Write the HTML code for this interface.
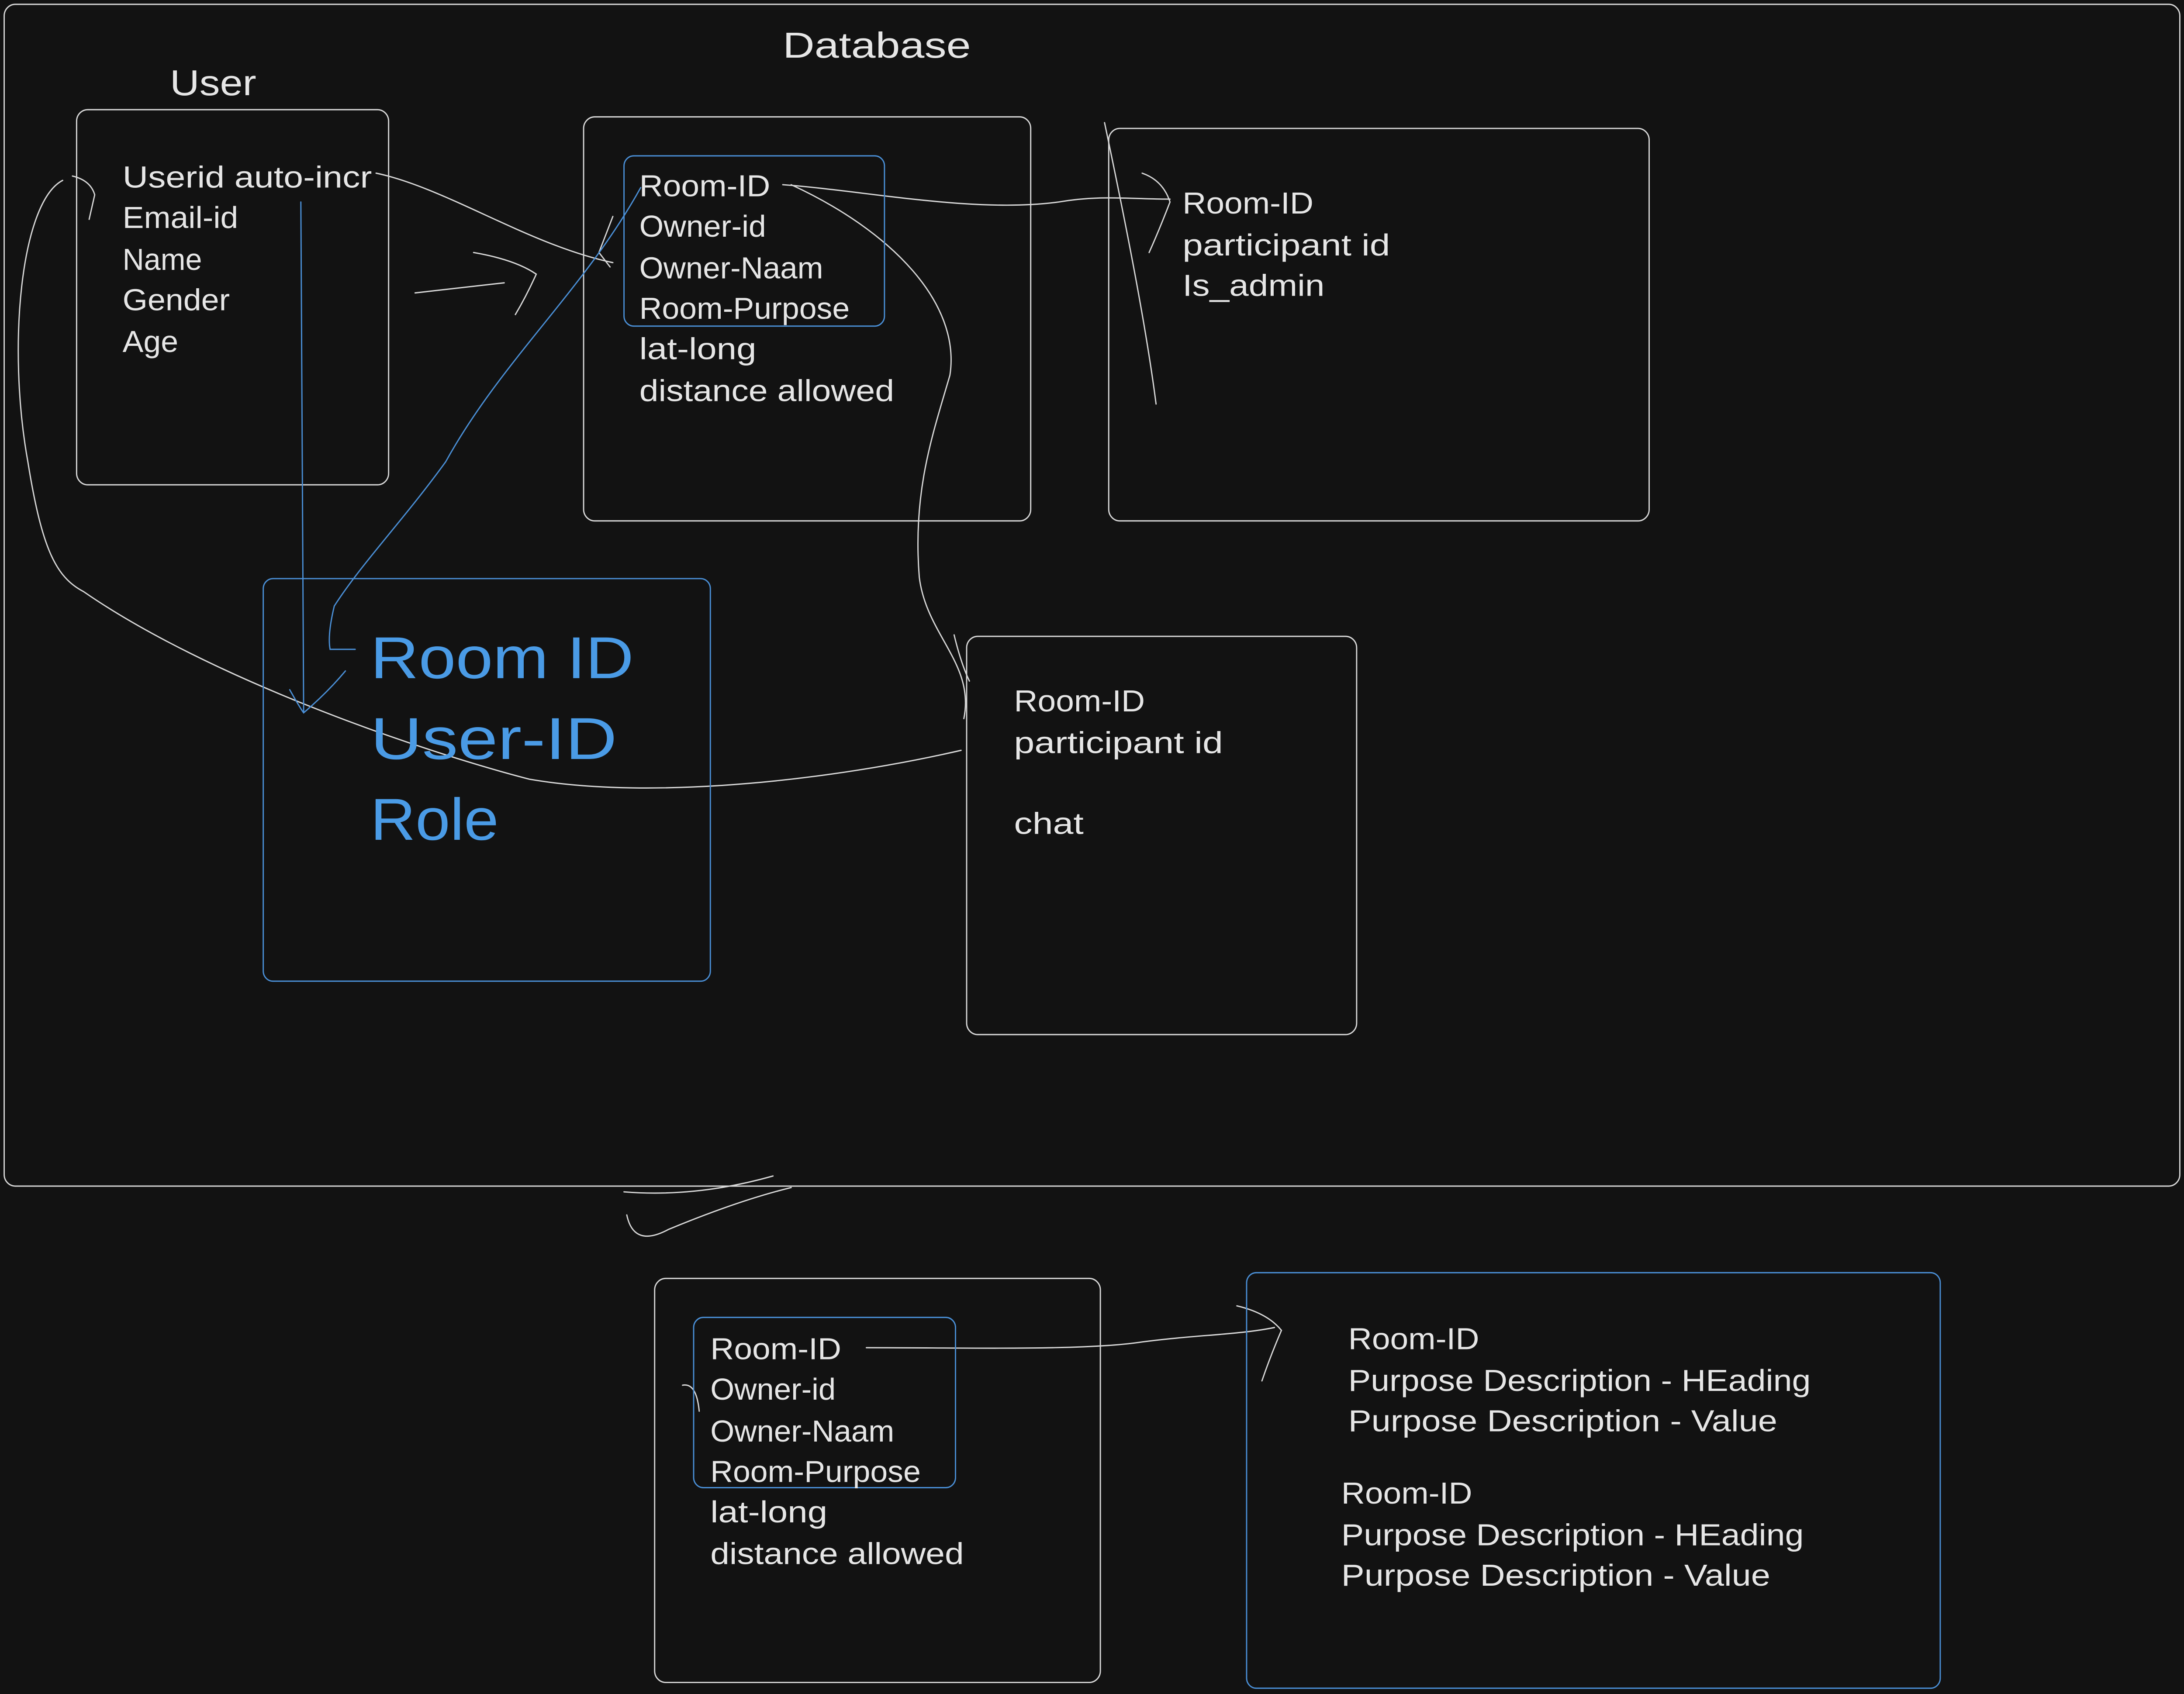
<!DOCTYPE html>
<html><head><meta charset="utf-8"><style>
html,body{margin:0;padding:0;background:#121212;width:100%;height:100%;overflow:hidden}
svg{display:block;position:fixed;left:0;top:0;width:100vw;height:100vh}
text{font-family:"Liberation Sans",sans-serif;fill:#e6e6e6}
.b{fill:#4a9be6}
</style></head><body>
<svg viewBox="0 0 1568 1174" preserveAspectRatio="none" xmlns="http://www.w3.org/2000/svg">
<rect width="1568" height="1174" fill="#121212"/>
<g fill="none" stroke="#d8d8d8" stroke-width="0.9" stroke-linecap="round">
<rect x="3" y="3" width="1562" height="819" rx="8"/>
<rect x="55" y="76" width="224" height="260" rx="8"/>
<rect x="419" y="81" width="321" height="280" rx="8"/>
<rect x="796" y="89" width="388" height="272" rx="8"/>
<rect x="694" y="441" width="280" height="276" rx="8"/>
<rect x="470" y="886" width="320" height="280" rx="8"/>
<path d="M270 120 C320 130 380 170 440 182"/>
<path d="M440 150 L430 175 L438 185"/>
<path d="M298 203 L362 196"/>
<path d="M340 175 Q370 180 385 190 Q378 205 370 218"/>
<path d="M562 128 C620 132 700 148 760 140 C790 135 810 138 840 138"/>
<path d="M820 120 Q835 125 840 140 Q832 160 825 175"/>
<path d="M793 85 C805 140 822 220 830 280"/>
<path d="M568 128 C640 160 690 210 682 260 C670 300 655 340 660 400 C665 440 700 460 692 498"/>
<path d="M685 440 Q690 460 696 472"/>
<path d="M45 125 C15 140 5 240 20 320 C30 380 40 400 60 410 C150 470 300 520 380 540 C470 555 600 540 690 520"/>
<path d="M52 122 Q65 125 68 135 L64 152"/>
<path d="M448 826 Q500 830 555 815"/>
<path d="M450 842 Q455 865 480 852 Q530 832 568 823"/>
<path d="M622 934 C700 934 780 936 820 930 C860 925 890 925 915 920"/>
<path d="M888 905 Q910 910 920 922 Q912 940 906 957"/>
<path d="M490 960 Q500 958 502 978"/>
</g>
<g fill="none" stroke="#4a8fd6" stroke-width="0.9" stroke-linecap="round">
<rect x="448" y="108" width="187" height="118" rx="7"/>
<rect x="189" y="401" width="321" height="279" rx="7"/>
<rect x="498" y="913" width="188" height="118" rx="7"/>
<rect x="895" y="882" width="498" height="288" rx="7"/>
<path d="M216 140 C216 260 218 380 218 493"/>
<path d="M208 478 Q215 490 218 494 Q235 480 248 465"/>
<path d="M460 130 C420 200 360 250 320 320 C290 360 260 390 240 420"/>
<path d="M240 420 Q235 440 237 450 L255 450"/>
</g>
<g font-size="25" lengthAdjust="spacingAndGlyphs"><text x="562" y="40" textLength="135" lengthAdjust="spacingAndGlyphs">Database</text><text x="122" y="66" textLength="62" lengthAdjust="spacingAndGlyphs">User</text></g>
<g font-size="21">
<text x="88" y="130" textLength="179" lengthAdjust="spacingAndGlyphs">Userid auto-incr</text><text x="88" y="158" textLength="83" lengthAdjust="spacingAndGlyphs">Email-id</text><text x="88" y="187" textLength="57" lengthAdjust="spacingAndGlyphs">Name</text><text x="88" y="215" textLength="77" lengthAdjust="spacingAndGlyphs">Gender</text><text x="88" y="244" textLength="40" lengthAdjust="spacingAndGlyphs">Age</text>
<text x="459" y="136" textLength="94" lengthAdjust="spacingAndGlyphs">Room-ID</text><text x="459" y="164" textLength="91" lengthAdjust="spacingAndGlyphs">Owner-id</text><text x="459" y="193" textLength="132" lengthAdjust="spacingAndGlyphs">Owner-Naam</text><text x="459" y="221" textLength="151" lengthAdjust="spacingAndGlyphs">Room-Purpose</text><text x="459" y="249" textLength="84" lengthAdjust="spacingAndGlyphs">lat-long</text><text x="459" y="278" textLength="183" lengthAdjust="spacingAndGlyphs">distance allowed</text>
<text x="849" y="148" textLength="94" lengthAdjust="spacingAndGlyphs">Room-ID</text><text x="849" y="177" textLength="149" lengthAdjust="spacingAndGlyphs">participant id</text><text x="849" y="205" textLength="102" lengthAdjust="spacingAndGlyphs">Is_admin</text>
<text x="728" y="493" textLength="94" lengthAdjust="spacingAndGlyphs">Room-ID</text><text x="728" y="522" textLength="150" lengthAdjust="spacingAndGlyphs">participant id</text><text x="728" y="578" textLength="50" lengthAdjust="spacingAndGlyphs">chat</text>
<text x="510" y="942" textLength="94" lengthAdjust="spacingAndGlyphs">Room-ID</text><text x="510" y="970" textLength="90" lengthAdjust="spacingAndGlyphs">Owner-id</text><text x="510" y="999" textLength="132" lengthAdjust="spacingAndGlyphs">Owner-Naam</text><text x="510" y="1027" textLength="151" lengthAdjust="spacingAndGlyphs">Room-Purpose</text><text x="510" y="1055" textLength="84" lengthAdjust="spacingAndGlyphs">lat-long</text><text x="510" y="1084" textLength="182" lengthAdjust="spacingAndGlyphs">distance allowed</text>
<text x="968" y="935" textLength="94" lengthAdjust="spacingAndGlyphs">Room-ID</text><text x="968" y="964" textLength="332" lengthAdjust="spacingAndGlyphs">Purpose Description - HEading</text><text x="968" y="992" textLength="308" lengthAdjust="spacingAndGlyphs">Purpose Description - Value</text>
<text x="963" y="1042" textLength="94" lengthAdjust="spacingAndGlyphs">Room-ID</text><text x="963" y="1071" textLength="332" lengthAdjust="spacingAndGlyphs">Purpose Description - HEading</text><text x="963" y="1099" textLength="308" lengthAdjust="spacingAndGlyphs">Purpose Description - Value</text>
</g>
<g font-size="41"><text class="b" x="266" y="470" textLength="189" lengthAdjust="spacingAndGlyphs">Room ID</text><text class="b" x="266" y="526" textLength="177" lengthAdjust="spacingAndGlyphs">User-ID</text><text class="b" x="266" y="582" textLength="92" lengthAdjust="spacingAndGlyphs">Role</text></g>
</svg>
</body></html>
